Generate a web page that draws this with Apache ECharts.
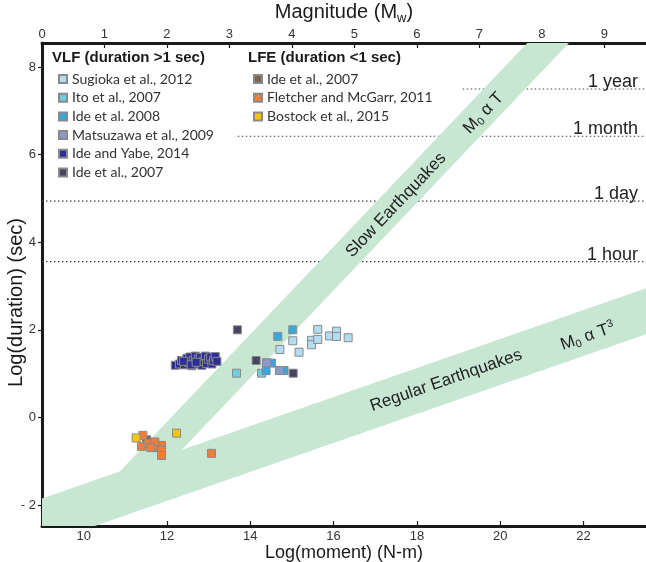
<!DOCTYPE html>
<html>
<head>
<meta charset="utf-8">
<script src="https://cdn.jsdelivr.net/npm/echarts@6/dist/echarts.min.js"></script>
<style>
html, body { margin: 0; padding: 0; background: #fff; }
#chart { width: 646px; height: 562px; }
</style>
</head>
<body>
<div id="chart"></div>
<script>
// axis extents and ticks
var X_MIN = 9, X_MAX = 23.5, Y_MIN = -2.48, Y_MAX = 8.55;
var xTicks = [10, 12, 14, 16, 18, 20, 22];
var yTicks = [-2, 0, 2, 4, 6, 8];
var magTicks = [0, 1, 2, 3, 4, 5, 6, 7, 8, 9];

// VLF (duration > 1 sec): [log moment, log duration]
var sugioka2012 = [[15.62, 2.01], [15.02, 1.75], [14.71, 1.55], [15.17, 1.49], [15.47, 1.76], [15.47, 1.66],
  [15.62, 1.78], [15.90, 1.86], [16.07, 1.97], [16.07, 1.85], [16.35, 1.82]];
var ito2007 = [[13.67, 1.01], [14.27, 1.01]];
var ide2008 = [[14.66, 1.85], [15.02, 2.00], [14.51, 1.24], [14.38, 1.07], [14.81, 1.07]];
var matsuzawa2009 = [[14.39, 1.25], [14.70, 1.07]];
var ideYabe2014 = [[12.20, 1.19], [12.30, 1.22], [12.35, 1.30], [12.42, 1.20], [12.48, 1.35], [12.52, 1.25],
  [12.55, 1.38], [12.60, 1.18], [12.63, 1.30], [12.68, 1.40], [12.72, 1.22], [12.75, 1.33], [12.80, 1.37],
  [12.84, 1.19], [12.88, 1.28], [12.92, 1.40], [12.95, 1.23], [13.00, 1.33], [13.05, 1.38], [13.08, 1.22],
  [13.12, 1.30], [13.16, 1.39], [12.40, 1.28], [12.58, 1.20], [12.70, 1.26], [13.20, 1.28]];
var ide2007Vlf = [[13.69, 2.00], [14.14, 1.30], [15.03, 1.01]];

// LFE (duration < 1 sec)
var ide2007Lfe = [[11.51, -0.51], [11.75, -0.69]];
var fletcher2011 = [[11.42, -0.41], [11.39, -0.66], [11.55, -0.59], [11.69, -0.66], [11.87, -0.64],
  [11.87, -0.75], [11.87, -0.87], [13.07, -0.82], [11.71, -0.56], [11.61, -0.69]];
var bostock2015 = [[11.26, -0.47], [12.23, -0.36]];

// scaling bands (polygon corners in data units)
var regularBand = [[9, -1.85], [23.5, 2.95], [23.5, 1.9], [9, -2.9]];
var slowBand = [[10.5, -1.6], [20.65, 8.55], [21.65, 8.55], [11.6, -1.5]];

// reference durations, log10(seconds)
var durationNames = ['1 hour', '1 day', '1 month', '1 year'];
var durationLog = [3.556, 4.937, 6.42, 7.499];
var durationFrom = [9, 9, 13.7, 19.1];

var bandLabels = [
  { text: 'Slow Earthquakes', at: [17.5, 4.85], along: slowBand },
  { text: '{m|M}{s|0}{m| \u03b1 T}', at: [19.6, 6.95], along: slowBand },
  { text: 'Regular Earthquakes', at: [18.7, 0.84], along: regularBand },
  { text: '{m|M}{s|0}{m| \u03b1 T}{p|3}', at: [22.1, 1.85], along: regularBand }
];

var FONT = 'Liberation Sans';
var bandColor = '#c7e7d3';
var mathRich = {
  m: { fontSize: 17, fontFamily: FONT, color: '#222' },
  s: { fontSize: 11, fontFamily: FONT, color: '#222', padding: [9, 0, 0, 0] },
  p: { fontSize: 11, fontFamily: FONT, color: '#222', padding: [0, 0, 9, 0] }
};

var vlfNames = ['Sugioka et al., 2012', 'Ito et al., 2007', 'Ide et al. 2008', 'Matsuzawa et al., 2009', 'Ide and Yabe, 2014', 'Ide et al., 2007'];
var vlfData = [sugioka2012, ito2007, ide2008, matsuzawa2009, ideYabe2014, ide2007Vlf];
var vlfColors = ['#b3dcf1', '#72cbdf', '#38a9dd', '#8f97cf', '#2d2f96', '#47455f'];
var lfeNames = ['Ide et al., 2007 ', 'Fletcher and McGarr, 2011', 'Bostock et al., 2015'];
var lfeData = [ide2007Lfe, fletcher2011, bostock2015];
var lfeColors = ['#7a6550', '#f07d3e', '#f6c415'];

function bandSeries(points) {
  return {
    type: 'custom', silent: true, clip: true, z: 2,
    data: [points[0]],
    renderItem: function (params, api) {
      return {
        type: 'polygon',
        shape: { points: points.map(function (p) { return api.coord(p); }) },
        style: { fill: bandColor }
      };
    }
  };
}

function scatter(name, data, color) {
  return {
    name: name, type: 'scatter', z: 4, data: data,
    symbol: 'rect', symbolSize: 8,
    itemStyle: { color: color, borderColor: '#8a8a8a', borderWidth: 1, opacity: 1 },
    emphasis: { disabled: true }
  };
}

var series = [
  {
    type: 'custom', silent: true, z: 1,
    data: durationLog.map(function (v, i) { return [durationFrom[i], v]; }),
    renderItem: function (params, api) {
      var i = params.dataIndex;
      var a = api.coord([api.value(0), api.value(1)]);
      var b = api.coord([X_MAX, api.value(1)]);
      return {
        type: 'group',
        children: [
          { type: 'line', shape: { x1: a[0], y1: a[1], x2: b[0], y2: b[1] },
            style: { stroke: '#444', lineWidth: 1.2, lineDash: [1.5, 2.5] } },
          { type: 'text', x: b[0] - 8, y: b[1] + 2,
            style: { text: durationNames[i], fontSize: 18, fontFamily: FONT, fill: '#222', align: 'right', verticalAlign: 'bottom' } }
        ]
      };
    }
  },
  bandSeries(regularBand),
  bandSeries(slowBand),
  {
    type: 'custom', silent: true, z: 5,
    data: bandLabels.map(function (l) { return l.at; }),
    renderItem: function (params, api) {
      var l = bandLabels[params.dataIndex];
      var p = api.coord(l.at);
      var e0 = api.coord(l.along[0]), e1 = api.coord(l.along[1]);
      return {
        type: 'text', x: p[0], y: p[1],
        rotation: Math.atan2(e0[1] - e1[1], e1[0] - e0[0]),
        style: { text: l.text, rich: mathRich, fontSize: 17, fontFamily: FONT, fill: '#222', align: 'center', verticalAlign: 'middle' }
      };
    }
  }
];
vlfNames.forEach(function (n, i) { series.push(scatter(n, vlfData[i], vlfColors[i])); });
lfeNames.forEach(function (n, i) { series.push(scatter(n, lfeData[i], lfeColors[i])); });

var axisLine = { show: true, onZero: false, lineStyle: { color: '#1a1a1a', width: 3 } };
var tickLabel = { fontSize: 13, fontFamily: FONT, color: '#333' };

var chart = echarts.init(document.getElementById('chart'));
chart.setOption({
  animation: false,
  grid: { left: 42, right: 0, top: 43, bottom: 36, containLabel: false, outerBoundsMode: 'none' },
  xAxis: [
    {
      type: 'value', position: 'bottom', min: X_MIN, max: X_MAX,
      axisLine: axisLine, splitLine: { show: false },
      axisTick: { inside: true, length: 5, customValues: xTicks, lineStyle: { color: '#1a1a1a', width: 1.2 } },
      axisLabel: Object.assign({ customValues: xTicks, margin: 4 }, tickLabel),
      name: 'Log(moment) (N-m)', nameLocation: 'middle', nameGap: 18, nameMoveOverlap: false,
      nameTextStyle: { fontSize: 18, fontFamily: FONT, color: '#1a1a1a' }
    },
    {
      type: 'value', position: 'top', min: 0, max: (X_MAX - X_MIN) / 1.5,
      axisLine: axisLine, splitLine: { show: false },
      axisTick: { inside: true, length: 5, customValues: magTicks, lineStyle: { color: '#1a1a1a', width: 1.2 } },
      axisLabel: Object.assign({ customValues: magTicks, margin: 2 }, tickLabel),
      name: 'Magnitude (M{s|w})', nameLocation: 'middle', nameGap: 18, nameMoveOverlap: false,
      nameTextStyle: { fontSize: 20, fontFamily: FONT, color: '#1a1a1a',
        rich: { s: { fontSize: 13, fontFamily: FONT, color: '#1a1a1a', padding: [12, 0, 0, 0] } } }
    }
  ],
  yAxis: {
    type: 'value', min: Y_MIN, max: Y_MAX,
    axisLine: axisLine, splitLine: { show: false },
    axisTick: { inside: false, length: 4, customValues: yTicks, lineStyle: { color: '#1a1a1a', width: 1.2 } },
    axisLabel: Object.assign({
      customValues: yTicks, margin: 6,
      formatter: function (v) { return v < 0 ? '- ' + (-v) : String(v); }
    }, tickLabel),
    name: 'Log(duration) (sec)', nameLocation: 'middle', nameGap: 16, nameMoveOverlap: false,
    nameTextStyle: { fontSize: 20, fontFamily: FONT, color: '#1a1a1a', padding: [0, 36, 0, 0] }
  },
  legend: [
    {
      data: vlfNames, orient: 'vertical', left: 53, top: 66,
      icon: 'rect', itemWidth: 8, itemHeight: 8, itemGap: 2.7, selectedMode: false,
      textStyle: { fontFamily: 'Lato', fontSize: 14, color: '#333', lineHeight: 16 }
    },
    {
      data: lfeNames, orient: 'vertical', left: 248, top: 66,
      icon: 'rect', itemWidth: 8, itemHeight: 8, itemGap: 2.7, selectedMode: false,
      textStyle: { fontFamily: 'Lato', fontSize: 14, color: '#333', lineHeight: 16 }
    }
  ],
  graphic: [
    { type: 'text', left: 52, top: 50, style: { text: 'VLF (duration >1 sec)', font: 'bold 15px "Liberation Sans"', fill: '#1a1a1a' } },
    { type: 'text', left: 248, top: 50, style: { text: 'LFE (duration <1 sec)', font: 'bold 15px "Liberation Sans"', fill: '#1a1a1a' } }
  ],
  series: series
});
</script>
</body>
</html>
